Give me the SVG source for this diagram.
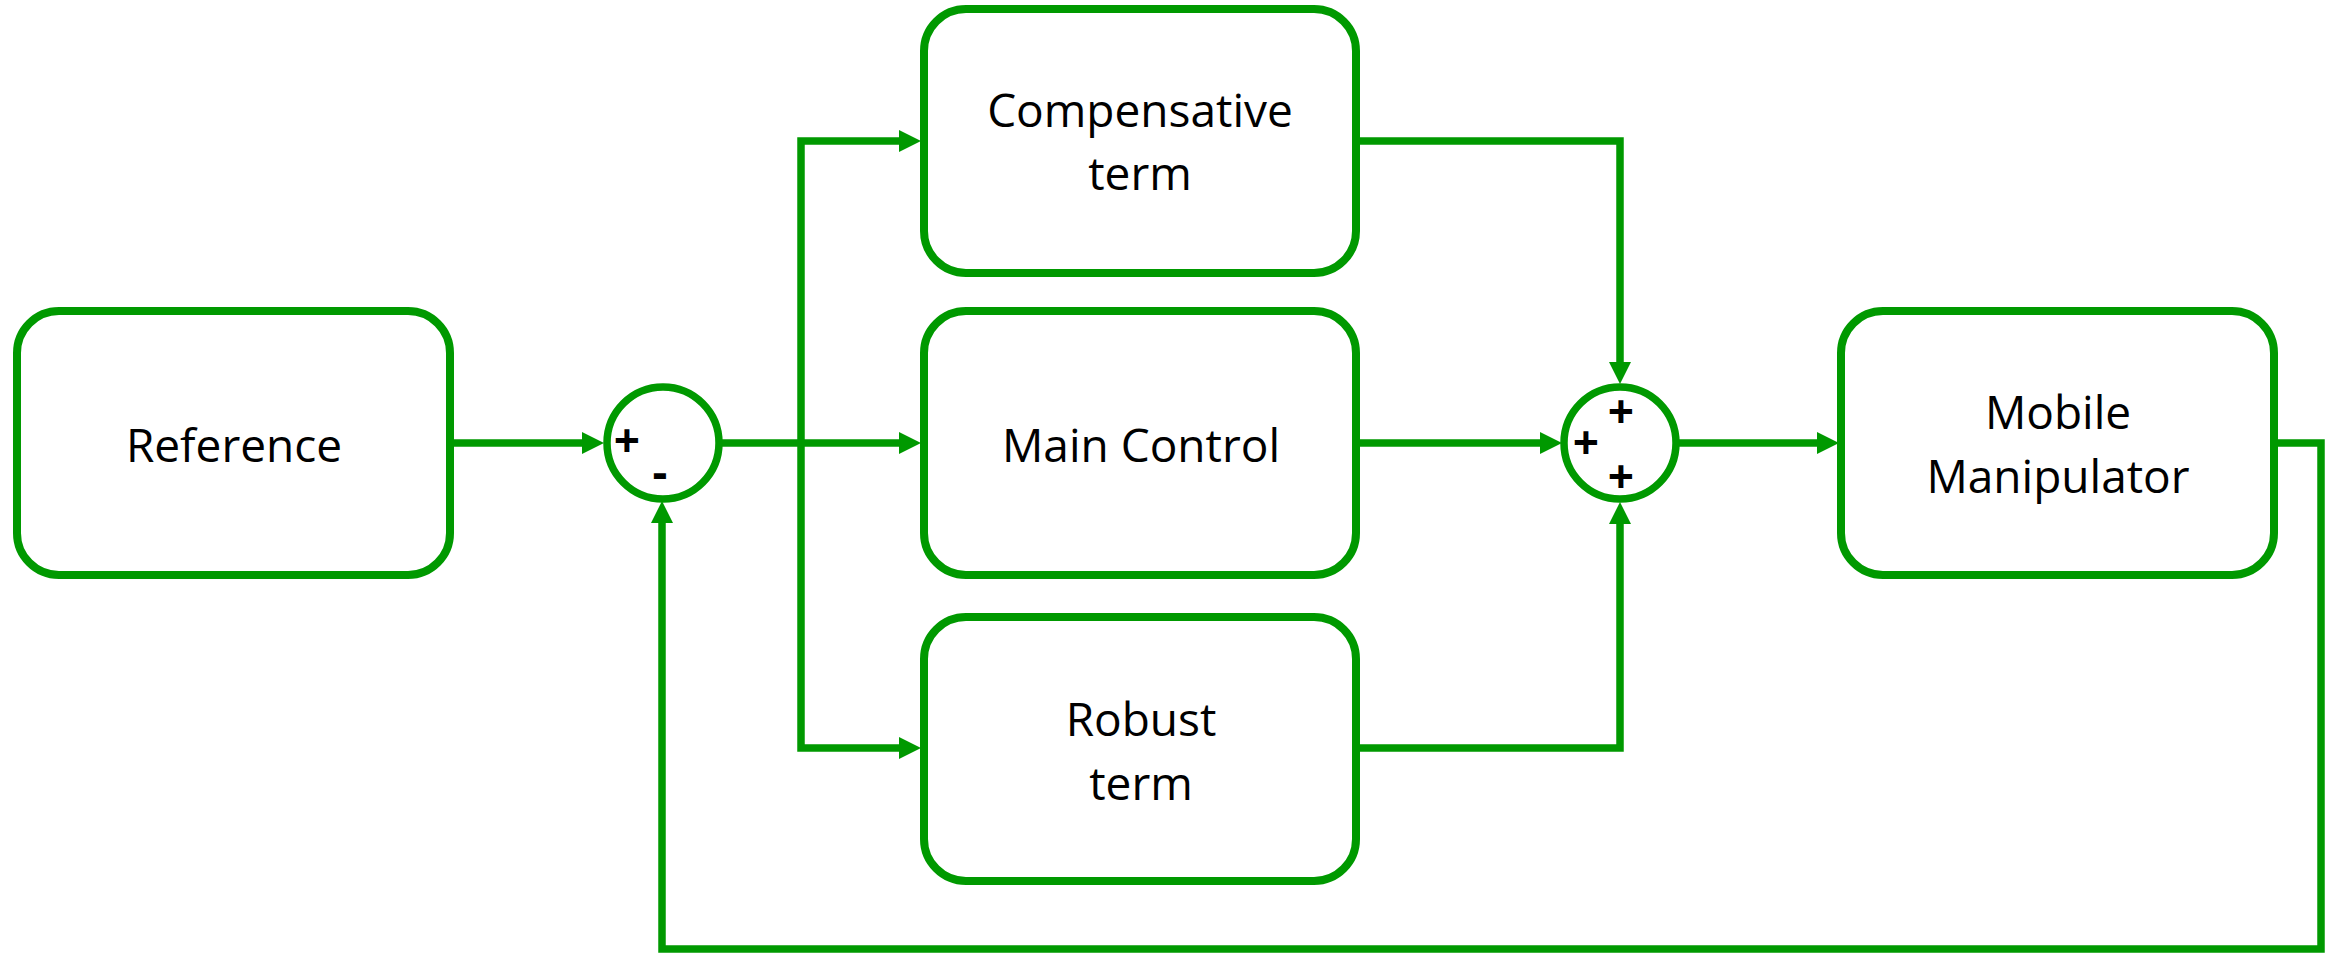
<svg xmlns="http://www.w3.org/2000/svg" width="2329" height="953" viewBox="0 0 2329 953">
  <style>
    .box { fill: #ffffff; stroke: #009900; stroke-width: 8; }
    .sum { fill: #ffffff; stroke: #009900; stroke-width: 7.5; }
    .wire { fill: none; stroke: #009900; stroke-width: 7.5; stroke-linejoin: miter; stroke-linecap: butt; }
    .label { font-family: "Open Sans", "Liberation Sans", sans-serif; font-size: 46px; fill: #000000; text-anchor: middle; }
    .sign { font-family: "Open Sans", "Liberation Sans", sans-serif; font-size: 46px; font-weight: bold; fill: #000000; text-anchor: middle; }
  </style>
  <defs>
    <marker id="arrow" markerUnits="userSpaceOnUse" markerWidth="22" markerHeight="22" viewBox="0 0 22 22" refX="12" refY="11" orient="auto">
      <path d="M0,0 L22,11 L0,22 Z" fill="#009900"/>
    </marker>
  </defs>
  <rect width="2329" height="953" fill="#ffffff"/>

  <g id="connectors">
    <path class="wire" d="M449,443 H594" marker-end="url(#arrow)"/>
    <path class="wire" d="M719,443 H911" marker-end="url(#arrow)"/>
    <path class="wire" d="M801,443 V141 H911" marker-end="url(#arrow)"/>
    <path class="wire" d="M801,443 V748 H911" marker-end="url(#arrow)"/>
    <path class="wire" d="M1356,141 H1620 V374" marker-end="url(#arrow)"/>
    <path class="wire" d="M1355,443 H1552" marker-end="url(#arrow)"/>
    <path class="wire" d="M1356,748 H1620 V512" marker-end="url(#arrow)"/>
    <path class="wire" d="M1676,443 H1829" marker-end="url(#arrow)"/>
    <path class="wire" d="M2274,443 H2321 V949 H662 V511" marker-end="url(#arrow)"/>
  </g>

  <g id="reference">
    <rect class="box" x="17" y="311" width="433" height="264" rx="42" ry="42"/>
    <text class="label" x="234" y="462">Reference</text>
  </g>

  <g id="sum1">
    <circle class="sum" cx="663" cy="443" r="56"/>
    <text class="sign" x="627" y="457">+</text>
    <text class="sign" x="660" y="489">-</text>
  </g>

  <g id="compensative">
    <rect class="box" x="924" y="9" width="432" height="264" rx="42" ry="42"/>
    <text class="label" x="1140" y="127">Compensative</text>
    <text class="label" x="1140" y="190">term</text>
  </g>

  <g id="main-control">
    <rect class="box" x="924" y="311" width="432" height="264" rx="42" ry="42"/>
    <text class="label" x="1141" y="462">Main Control</text>
  </g>

  <g id="robust">
    <rect class="box" x="924" y="617" width="432" height="264" rx="42" ry="42"/>
    <text class="label" x="1141" y="736">Robust</text>
    <text class="label" x="1141" y="800">term</text>
  </g>

  <g id="sum2">
    <circle class="sum" cx="1620" cy="443" r="56"/>
    <text class="sign" x="1621" y="428">+</text>
    <text class="sign" x="1586" y="459">+</text>
    <text class="sign" x="1621" y="493">+</text>
  </g>

  <g id="mobile-manipulator">
    <rect class="box" x="1841" y="311" width="433" height="264" rx="42" ry="42"/>
    <text class="label" x="2058" y="429">Mobile</text>
    <text class="label" x="2058" y="493">Manipulator</text>
  </g>
</svg>
